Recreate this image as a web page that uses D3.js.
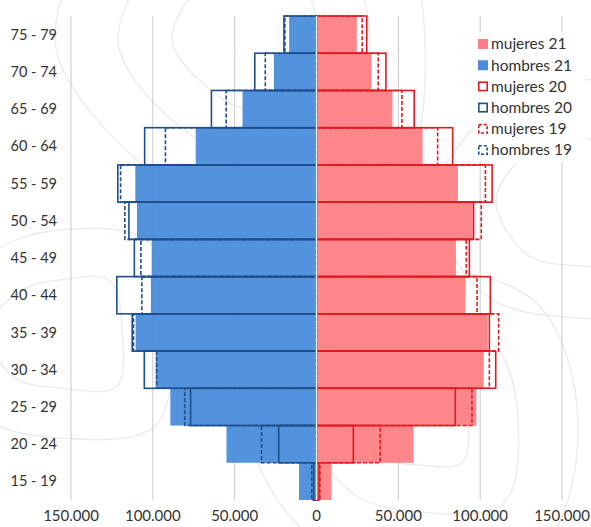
<!DOCTYPE html>
<html>
<head>
<meta charset="utf-8">
<script src="https://cdn.jsdelivr.net/npm/d3@7"></script>
<style>
  body { margin: 0; background: #fff; }
  text { font-family: Lato, "Open Sans", sans-serif; fill: #333; }
</style>
</head>
<body>
<div id="chart"></div>
<script>
// age groups, top to bottom
var ages = ['75 - 79', '70 - 74', '65 - 69', '60 - 64', '55 - 59', '50 - 54', '45 - 49',
  '40 - 44', '35 - 39', '30 - 34', '25 - 29', '20 - 24', '15 - 19'];

var hombres21 = [16700, 26000, 45200, 73800, 110700, 109700, 100700, 101200, 110500, 98300, 89300, 55000, 10700];
var hombres20 = [19900, 37700, 64200, 105000, 121400, 114600, 111300, 122000, 112600, 105200, 76900, 23100, 1700];
var hombres19 = [19300, 31300, 55200, 92300, 119700, 117100, 107300, 106700, 111800, 97600, 80500, 33600, 2900];

var mujeres21 = [24600, 33600, 46400, 64800, 86400, 95500, 85200, 91100, 104600, 102100, 97700, 59300, 9100];
var mujeres20 = [30700, 42400, 59700, 83200, 107300, 96000, 93400, 106200, 105600, 109500, 84800, 22500, 1500];
var mujeres19 = [27900, 37700, 52200, 74000, 103200, 100700, 91500, 98100, 111300, 105600, 95000, 38900, 2100];

var ticks = [-150000, -100000, -50000, 0, 50000, 100000, 150000];
var legendItems = ['mujeres 21', 'hombres 21', 'mujeres 20', 'hombres 20', 'mujeres 19', 'hombres 19'];

var width = 591;
var height = 527;

var svg = d3.select('#chart').append('svg')
  .attr('width', width)
  .attr('height', height);

var x = d3.scaleLinear()
  .domain([-150000, 150000])
  .range([71, 562]);

var y = d3.scaleBand()
  .domain(ages)
  .range([16, 500])
  .padding(0);

var pink = '#ff7f84';
var blue = '#4a8ddc';
var red = '#de1b22';
var navy = '#1f4e8c';

// faint topographic background
var contours = [
  {cx: 250, cy: 40, r: [60, 75, 68, 82, 70, 64, 78, 72]},
  {cx: 250, cy: 40, r: [110, 128, 120, 140, 118, 112, 132, 122]},
  {cx: 250, cy: 40, r: [170, 190, 175, 205, 180, 165, 195, 185]},
  {cx: 420, cy: 420, r: [40, 55, 48, 60, 45, 52, 58, 44]},
  {cx: 420, cy: 420, r: [90, 105, 98, 118, 92, 100, 112, 95]},
  {cx: 420, cy: 420, r: [150, 165, 158, 175, 145, 160, 172, 150]},
  {cx: 60, cy: 330, r: [50, 70, 62, 80, 58, 66, 74, 55]},
  {cx: 60, cy: 330, r: [100, 125, 112, 135, 108, 118, 130, 104]},
  {cx: 580, cy: 200, r: [60, 80, 72, 90, 66, 76, 84, 70]},
  {cx: 580, cy: 200, r: [120, 140, 128, 150, 118, 134, 146, 125]}
];
var radial = d3.lineRadial()
  .angle(function(d, i) { return i * 2 * Math.PI / 8; })
  .radius(function(d) { return d; })
  .curve(d3.curveCardinalClosed);
svg.append('g').selectAll('path')
  .data(contours)
  .enter()
  .append('path')
  .attr('transform', function(d) { return 'translate(' + d.cx + ',' + d.cy + ')'; })
  .attr('d', function(d) { return radial(d.r); })
  .attr('fill', 'none')
  .attr('stroke', '#ececec')
  .attr('stroke-width', 1.5);

// grid
svg.append('g').selectAll('line')
  .data(ticks.filter(function(t) { return t !== 0; }))
  .enter()
  .append('line')
  .attr('x1', function(d) { return x(d); })
  .attr('x2', function(d) { return x(d); })
  .attr('y1', 16)
  .attr('y2', 500)
  .attr('stroke', '#c8c8c8')
  .attr('stroke-width', 1);

// 2021 filled bars
svg.append('g').selectAll('rect')
  .data(hombres21)
  .enter()
  .append('rect')
  .attr('x', function(d) { return x(-d); })
  .attr('y', function(d, i) { return y(ages[i]); })
  .attr('width', function(d) { return x(0) - x(-d) - 1; })
  .attr('height', y.bandwidth())
  .attr('fill', blue)
  .attr('fill-opacity', 0.95);

svg.append('g').selectAll('rect')
  .data(mujeres21)
  .enter()
  .append('rect')
  .attr('x', x(0) + 1)
  .attr('y', function(d, i) { return y(ages[i]); })
  .attr('width', function(d) { return x(d) - x(0) - 1; })
  .attr('height', y.bandwidth())
  .attr('fill', pink)
  .attr('fill-opacity', 0.95);

// 2019 dashed and 2020 solid outlines
function outline(data, sign, color, dash) {
  svg.append('g').selectAll('rect')
    .data(data)
    .enter()
    .append('rect')
    .attr('x', function(d) { return sign < 0 ? x(-d) : x(0); })
    .attr('y', function(d, i) { return y(ages[i]); })
    .attr('width', function(d) { return Math.abs(x(sign * d) - x(0)); })
    .attr('height', y.bandwidth())
    .attr('fill', 'none')
    .attr('stroke', color)
    .attr('stroke-width', 1.6)
    .attr('stroke-dasharray', dash);
}
outline(hombres19, -1, navy, '4,2');
outline(mujeres19, 1, red, '4,2');
outline(hombres20, -1, navy, null);
outline(mujeres20, 1, red, null);

// zero line
svg.append('line')
  .attr('x1', x(0))
  .attr('x2', x(0))
  .attr('y1', 16)
  .attr('y2', 500)
  .attr('stroke', '#e8eef6')
  .attr('stroke-width', 1.5);

// category labels
svg.append('g').selectAll('text')
  .data(ages)
  .enter()
  .append('text')
  .attr('x', 57)
  .attr('y', function(d) { return y(d) + y.bandwidth() / 2; })
  .attr('dy', '0.35em')
  .attr('text-anchor', 'end')
  .style('font-size', '14.5px')
  .text(function(d) { return d; });

// x axis labels
svg.append('g').selectAll('text')
  .data(ticks)
  .enter()
  .append('text')
  .attr('x', function(d) { return x(d); })
  .attr('y', 521)
  .attr('text-anchor', 'middle')
  .style('font-size', '15px')
  .text(function(d) { return d3.format(',')(Math.abs(d)).replace(/,/g, '.'); });

// legend
svg.append('rect')
  .attr('x', 474)
  .attr('y', 32)
  .attr('width', 112)
  .attr('height', 130)
  .attr('fill', '#fff')
  .attr('fill-opacity', 0.85);

var legend = svg.append('g').selectAll('g')
  .data(legendItems)
  .enter()
  .append('g')
  .attr('transform', function(d, i) { return 'translate(478,' + (44 + i * 21.2) + ')'; });

legend.append('rect')
  .attr('x', function(d, i) { return i < 2 ? 0 : 0.8; })
  .attr('y', function(d, i) { return i < 2 ? -5 : -4.2; })
  .attr('width', function(d, i) { return i < 2 ? 10 : 8.4; })
  .attr('height', function(d, i) { return i < 2 ? 10 : 8.4; })
  .attr('fill', function(d, i) { return i === 0 ? pink : i === 1 ? blue : 'none'; })
  .attr('stroke', function(d, i) { return i < 2 ? 'none' : (i % 2 === 0 ? red : navy); })
  .attr('stroke-width', 1.6)
  .attr('stroke-dasharray', function(d, i) { return i >= 4 ? '3,2' : null; });

legend.append('text')
  .attr('x', 13)
  .attr('dy', '0.35em')
  .style('font-size', '15.5px')
  .text(function(d) { return d; });
</script>
</body>
</html>
